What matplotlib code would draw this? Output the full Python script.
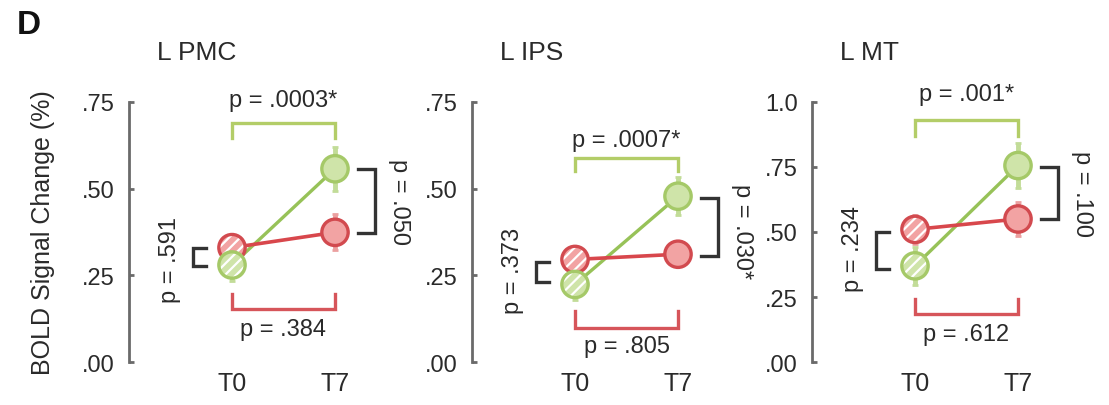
import matplotlib
matplotlib.use('Agg')
import matplotlib.pyplot as plt
import matplotlib.transforms as mtransforms
from matplotlib import font_manager

# the source figure uses a condensed Arial look; use the narrow face if it exists
installed = {f.name for f in font_manager.fontManager.ttflist}
if 'Liberation Sans Narrow' in installed:
    plt.rcParams['font.family'] = ['Liberation Sans Narrow', 'DejaVu Sans']
    k = 1.0 / 0.84
else:
    plt.rcParams['font.family'] = ['Liberation Sans', 'DejaVu Sans']
    k = 1.0
plt.rcParams['hatch.linewidth'] = 1.6

# values
regions = ['L PMC', 'L IPS', 'L MT']
times = ['T0', 'T7']
y_max = [0.75, 0.75, 1.0]
y_ticks = [[0, 0.25, 0.5, 0.75], [0, 0.25, 0.5, 0.75], [0, 0.25, 0.5, 0.75, 1.0]]
y_ticklabels = [['.00', '.25', '.50', '.75'], ['.00', '.25', '.50', '.75'],
                ['.00', '.25', '.50', '.75', '1.0']]

red_t0 = [0.33, 0.296, 0.51]
red_t7 = [0.374, 0.311, 0.55]
green_t0 = [0.28, 0.224, 0.37]
green_t7 = [0.557, 0.478, 0.755]
red_err_t0 = [0.03, 0.03, 0.057]
red_err_t7 = [0.052, 0.03, 0.067]
green_err_t0 = [0.046, 0.045, 0.073]
green_err_t7 = [0.063, 0.055, 0.085]

p_top = ['p = .0003*', 'p = .0007*', 'p = .001*']
p_bottom = ['p = .384', 'p = .805', 'p = .612']
p_left = ['p = .591', 'p = .373', 'p = .234']
p_right = ['p = .050', 'p = .030*', 'p = .100']

top_bar = [0.69, 0.588, 0.931]
top_leg = [0.646, 0.55, 0.87]
top_text = [0.755, 0.64, 1.03]
bottom_bar = [0.152, 0.10, 0.185]
bottom_leg = [0.198, 0.147, 0.243]
bottom_text = [0.095, 0.047, 0.109]
left_span = [(0.33, 0.277), (0.29, 0.23), (0.499, 0.358)]
left_text = [0.296, 0.265, 0.438]
right_span = [(0.555, 0.373), (0.472, 0.305), (0.748, 0.55)]
right_text = [0.464, 0.38, 0.65]

RED_LINE, RED_FILL, RED_EDGE, RED_ERR = '#d8474c', '#f2a3a3', '#d24a4f', '#eba0a0'
GRN_LINE, GRN_FILL, GRN_EDGE, GRN_ERR = '#97c258', '#cfe4a9', '#a5c968', '#c2dc98'
BRK_GRN, BRK_RED, BRK_BLK = '#b3cd68', '#d6555a', '#333333'
TXT = '#2a2a2a'
AX = '#6a6a6a'

W, H = 1109, 406
fig = plt.figure(figsize=(W / 100, H / 100), dpi=100)

spine_px = [129, 472, 812]
unit = 103
xlo, xhi = -1.0, 1.75

fig.text(17 / W, 1 - 10 / H, 'D', fontsize=24 * k, fontweight='bold', va='top', ha='left',
         color='#111111')

for i in range(3):
    ax = fig.add_axes([spine_px[i] / W, 42.7 / H, (xhi - xlo) * unit / W, 260.6 / H])
    ax.set_xlim(xlo, xhi)
    ax.set_ylim(0, y_max[i])
    for s in ['top', 'right', 'bottom']:
        ax.spines[s].set_visible(False)
    ax.spines['left'].set_color(AX)
    ax.spines['left'].set_linewidth(2)
    ax.set_yticks(y_ticks[i])
    ax.set_yticklabels(y_ticklabels[i])
    ax.set_yticks([0, y_max[i]], minor=True)
    ax.tick_params(axis='y', which='major', direction='in', length=3.5, width=2, color=AX,
                   labelsize=17 * k, labelcolor=TXT, pad=10)
    ax.tick_params(axis='y', which='minor', direction='in', length=6, width=2, color=AX)
    ax.set_xticks([0, 1])
    ax.set_xticklabels(times)
    ax.tick_params(axis='x', length=0, labelsize=18 * k, labelcolor=TXT, pad=6)
    if i == 0:
        ax.set_ylabel('BOLD Signal Change (%)', fontsize=18 * k, color=TXT)
        ax.yaxis.set_label_coords((55 - spine_px[0]) / ((xhi - xlo) * unit), 0.5)

    trans = mtransforms.blended_transform_factory(ax.transData, ax.transAxes)
    ax.text(-0.73, 1.164, regions[i], transform=trans, fontsize=19 * k, color=TXT,
            ha='left', va='baseline')

    # lines
    ax.plot([0, 1], [green_t0[i], green_t7[i]], color=GRN_LINE, lw=2.4, zorder=2)
    ax.plot([0, 1], [red_t0[i], red_t7[i]], color=RED_LINE, lw=2.6, zorder=2.5)

    # error bars
    ax.errorbar([0, 1], [red_t0[i], red_t7[i]], yerr=[red_err_t0[i], red_err_t7[i]],
                fmt='none', ecolor=RED_ERR, elinewidth=3.5, capsize=2.5, capthick=2, zorder=1.5)
    ax.errorbar([0, 1], [green_t0[i], green_t7[i]], yerr=[green_err_t0[i], green_err_t7[i]],
                fmt='none', ecolor=GRN_ERR, elinewidth=3.5, capsize=2.5, capthick=2, zorder=1.5)

    # markers: red then green, T0 hatched
    for vals, fill, edge, z in [((red_t0[i], red_t7[i]), RED_FILL, RED_EDGE, 3),
                                ((green_t0[i], green_t7[i]), GRN_FILL, GRN_EDGE, 4)]:
        ax.scatter([0, 1], vals, s=360, facecolor=fill, edgecolor='none', zorder=z)
        ax.scatter([0], [vals[0]], s=360, facecolor='none', edgecolor='white', linewidth=0,
                   hatch='///', zorder=z + 0.1)
        ax.scatter([0, 1], vals, s=360, facecolor='none', edgecolor=edge, linewidth=2.4,
                   zorder=z + 0.2)

    # green bracket (top)
    ax.plot([0, 0, 1, 1], [top_leg[i], top_bar[i], top_bar[i], top_leg[i]],
            color=BRK_GRN, lw=2.4, clip_on=False, solid_joinstyle='miter')
    ax.text(0.5, top_text[i], p_top[i], ha='center', va='center', fontsize=17 * k, color=TXT)
    # red bracket (bottom)
    ax.plot([0, 0, 1, 1], [bottom_leg[i], bottom_bar[i], bottom_bar[i], bottom_leg[i]],
            color=BRK_RED, lw=2.4, clip_on=False, solid_joinstyle='miter')
    ax.text(0.5, bottom_text[i], p_bottom[i], ha='center', va='center', fontsize=17 * k,
            color=TXT)
    # left black bracket
    a, b = left_span[i]
    ax.plot([-0.25, -0.38, -0.38, -0.25], [a, a, b, b], color=BRK_BLK, lw=2.4,
            clip_on=False, solid_joinstyle='miter')
    ax.text(-0.6, left_text[i], p_left[i], rotation=90, ha='center', va='center',
            fontsize=17 * k, color=TXT)
    # right black bracket
    a, b = right_span[i]
    ax.plot([1.22, 1.39, 1.39, 1.22], [a, a, b, b], color=BRK_BLK, lw=2.4,
            clip_on=False, solid_joinstyle='miter')
    ax.text(1.62, right_text[i], p_right[i], rotation=270, ha='center', va='center',
            fontsize=17 * k, color=TXT)

fig.savefig('out.png', dpi=100)
